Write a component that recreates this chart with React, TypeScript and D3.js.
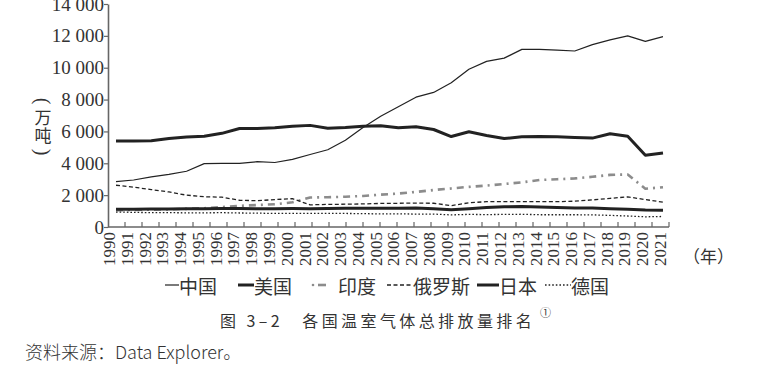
import React, { useEffect, useRef } from "react";
import * as d3 from "d3";

// Greenhouse gas emissions by country, 万吨
const years = [
  1990, 1991, 1992, 1993, 1994, 1995, 1996, 1997, 1998, 1999, 2000, 2001, 2002, 2003, 2004, 2005,
  2006, 2007, 2008, 2009, 2010, 2011, 2012, 2013, 2014, 2015, 2016, 2017, 2018, 2019, 2020, 2021,
];
const china = [
  2850, 2950, 3150, 3300, 3500, 3980, 4000, 4000, 4100, 4050, 4250, 4550, 4850, 5450, 6250, 6950,
  7550, 8150, 8450, 9050, 9900, 10400, 10600, 11150, 11150, 11100, 11050, 11450, 11750, 12000, 11650, 11950,
];
const usa = [
  5400, 5400, 5420, 5550, 5650, 5700, 5880, 6180, 6180, 6230, 6330, 6380, 6200, 6250, 6330, 6360,
  6230, 6300, 6120, 5680, 5980, 5750, 5550, 5660, 5680, 5660, 5620, 5580, 5850, 5700, 4500, 4650,
];
const india = [
  1050, 1070, 1090, 1110, 1140, 1180, 1250, 1330, 1380, 1430, 1550, 1850, 1870, 1900, 1950, 2030,
  2100, 2200, 2320, 2420, 2520, 2600, 2700, 2800, 2950, 3000, 3050, 3150, 3270, 3300, 2400, 2500,
];
const russia = [
  2620, 2500, 2350, 2200, 2000, 1900, 1870, 1680, 1650, 1720, 1780, 1390, 1420, 1430, 1450, 1480,
  1490, 1500, 1490, 1340, 1520, 1590, 1590, 1590, 1590, 1590, 1620, 1700, 1800, 1890, 1720, 1560,
];
const japan = [
  1120, 1120, 1130, 1130, 1140, 1150, 1160, 1160, 1140, 1150, 1160, 1150, 1160, 1170, 1170, 1170,
  1170, 1190, 1140, 1080, 1150, 1230, 1270, 1280, 1250, 1220, 1200, 1190, 1150, 1110, 1060, 1050,
];
const germany = [
  940, 920, 900, 900, 890, 890, 900, 880, 870, 850, 850, 860, 850, 850, 840, 820,
  830, 810, 810, 760, 790, 780, 790, 800, 770, 770, 770, 760, 730, 690, 640, 660,
];
const yTicks = [0, 2000, 4000, 6000, 8000, 10000, 12000, 14000];

const seriesNames = ["中国", "美国", "印度", "俄罗斯", "日本", "德国"];

const styles = [
  { color: "#222", width: 1.2, dash: "" },
  { color: "#222", width: 3, dash: "" },
  { color: "#8c8c8c", width: 2.6, dash: "7 5 2 5" },
  { color: "#222", width: 1.3, dash: "4 2.5" },
  { color: "#222", width: 3, dash: "" },
  { color: "#222", width: 1.3, dash: "1.6 2" },
];

const cjk = "Noto Sans CJK SC, sans-serif";
const serif = "Liberation Serif, Times New Roman, DejaVu Serif, serif";

const App: React.FC = () => {
  const svgRef = useRef<SVGSVGElement>(null);

  useEffect(() => {
    if (!svgRef.current) return;
    const svg = d3.select(svgRef.current);
    svg.selectAll("*").remove();

    const data = [china, usa, india, russia, japan, germany];

    const x = d3.scalePoint<number>().domain(years).range([116, 663]);
    const xLabel = d3.scalePoint<number>().domain(years).range([109, 660]);
    const y = d3.scaleLinear().domain([0, 14000]).range([227, 4]);
    const tickPos = d3.scaleLinear().domain([0, 33]).range([108, 669]);

    const fmt = d3.formatLocale({ decimal: ".", thousands: " ", grouping: [3], currency: ["", ""] }).format(",");

    // y axis
    const yAxis = svg
      .append("g")
      .attr("transform", "translate(108,0)")
      .call(d3.axisLeft(y).tickValues(yTicks).tickSize(4).tickSizeOuter(0).tickFormat((d) => fmt(d as number)));
    yAxis.attr("font-family", serif).attr("font-size", 19);
    yAxis.select(".domain").attr("stroke", "#666").attr("stroke-width", 1.6);
    yAxis.selectAll(".tick line").attr("stroke", "#666").attr("stroke-width", 1.2);
    yAxis.selectAll(".tick text").attr("x", -4).attr("fill", "#333");

    // x axis
    svg
      .append("line")
      .attr("x1", 108)
      .attr("x2", 669)
      .attr("y1", y(0))
      .attr("y2", y(0))
      .attr("stroke", "#666")
      .attr("stroke-width", 1.6);
    svg
      .selectAll(".xtick")
      .data(d3.range(1, 34))
      .enter()
      .append("line")
      .attr("class", "xtick")
      .attr("x1", (d) => tickPos(d))
      .attr("x2", (d) => tickPos(d))
      .attr("y1", y(0))
      .attr("y2", y(0) - 5)
      .attr("stroke", "#666")
      .attr("stroke-width", 1.2);
    svg
      .append("g")
      .attr("font-family", serif)
      .attr("font-size", 17)
      .selectAll(".xlabel")
      .data(years)
      .enter()
      .append("text")
      .attr("class", "xlabel")
      .attr("transform", (d) => `translate(${xLabel(d)! + 6},${y(0) + 5}) rotate(-90)`)
      .attr("text-anchor", "end")
      .attr("fill", "#333")
      .text((d) => String(d));

    // lines
    data.forEach((vals, i) => {
      const line = d3
        .line<number>()
        .x((_, j) => x(years[j])!)
        .y((d) => y(d));
      svg
        .append("path")
        .datum(vals)
        .attr("d", line)
        .attr("fill", "none")
        .attr("stroke", styles[i].color)
        .attr("stroke-width", styles[i].width)
        .attr("stroke-dasharray", styles[i].dash)
        .attr("stroke-linejoin", "round");
    });

    // y title, vertical
    const yTitle = [
      { t: "(", y: 101, rot: 90 },
      { t: "万", y: 116, rot: 0 },
      { t: "吨", y: 134, rot: 0 },
      { t: ")", y: 152, rot: 90 },
    ];
    svg
      .selectAll(".ytitle")
      .data(yTitle)
      .enter()
      .append("text")
      .attr("transform", (d) => `translate(43,${d.y}) rotate(${d.rot})`)
      .attr("text-anchor", "middle")
      .attr("dominant-baseline", "central")
      .attr("fill", "#333")
      .attr("font-family", (d) => (d.rot ? serif : cjk))
      .attr("font-size", (d) => (d.rot ? 20 : 17))
      .text((d) => d.t);

    svg
      .append("text")
      .attr("x", 683)
      .attr("y", 255)
      .attr("dominant-baseline", "central")
      .attr("fill", "#333")
      .attr("font-family", cjk)
      .attr("font-size", 17)
      .text("（年）");

    // legend
    const legendX = [165, 238, 311, 387, 477, 545];
    const symW = [14, 16, 16, 26, 22, 26];
    const legend = svg.append("g");
    seriesNames.forEach((name, i) => {
      const lx = legendX[i];
      const ly = 285;
      if (i === 2) {
        legend.append("circle").attr("cx", lx + 2).attr("cy", ly).attr("r", 1.3).attr("fill", styles[i].color);
        legend
          .append("line")
          .attr("x1", lx + 7)
          .attr("x2", lx + 15)
          .attr("y1", ly)
          .attr("y2", ly)
          .attr("stroke", styles[i].color)
          .attr("stroke-width", 2.6);
      } else {
        legend
          .append("line")
          .attr("x1", lx)
          .attr("x2", lx + symW[i])
          .attr("y1", ly)
          .attr("y2", ly)
          .attr("stroke", styles[i].color)
          .attr("stroke-width", styles[i].width)
          .attr("stroke-dasharray", styles[i].dash);
      }
      legend
        .append("text")
        .attr("x", lx + symW[i] + (i === 2 ? 11 : 0))
        .attr("y", ly)
        .attr("dominant-baseline", "central")
        .attr("fill", "#333")
        .attr("font-family", cjk)
        .attr("font-size", 19)
        .text(name);
    });

    // caption
    svg
      .append("text")
      .attr("x", 220)
      .attr("y", 320)
      .attr("dominant-baseline", "central")
      .attr("fill", "#333")
      .attr("font-family", cjk)
      .attr("font-size", 16)
      .style("letter-spacing", "3.4px")
      .text("图 3–2　各国温室气体总排放量排名");
    svg
      .append("text")
      .attr("x", 540)
      .attr("y", 312)
      .attr("dominant-baseline", "central")
      .attr("fill", "#333")
      .attr("font-family", cjk)
      .attr("font-size", 11)
      .text("①");

    svg
      .append("text")
      .attr("x", 25)
      .attr("y", 351)
      .attr("dominant-baseline", "central")
      .attr("fill", "#333")
      .attr("font-family", cjk)
      .attr("font-size", 18)
      .attr("font-weight", 300)
      .text("资料来源：Data Explorer。");
  }, []);

  return (
    <svg
      ref={svgRef}
      width={761}
      height={391}
      style={{ position: "absolute", left: 0, top: 0, background: "#fff" }}
    />
  );
};

export default App;
